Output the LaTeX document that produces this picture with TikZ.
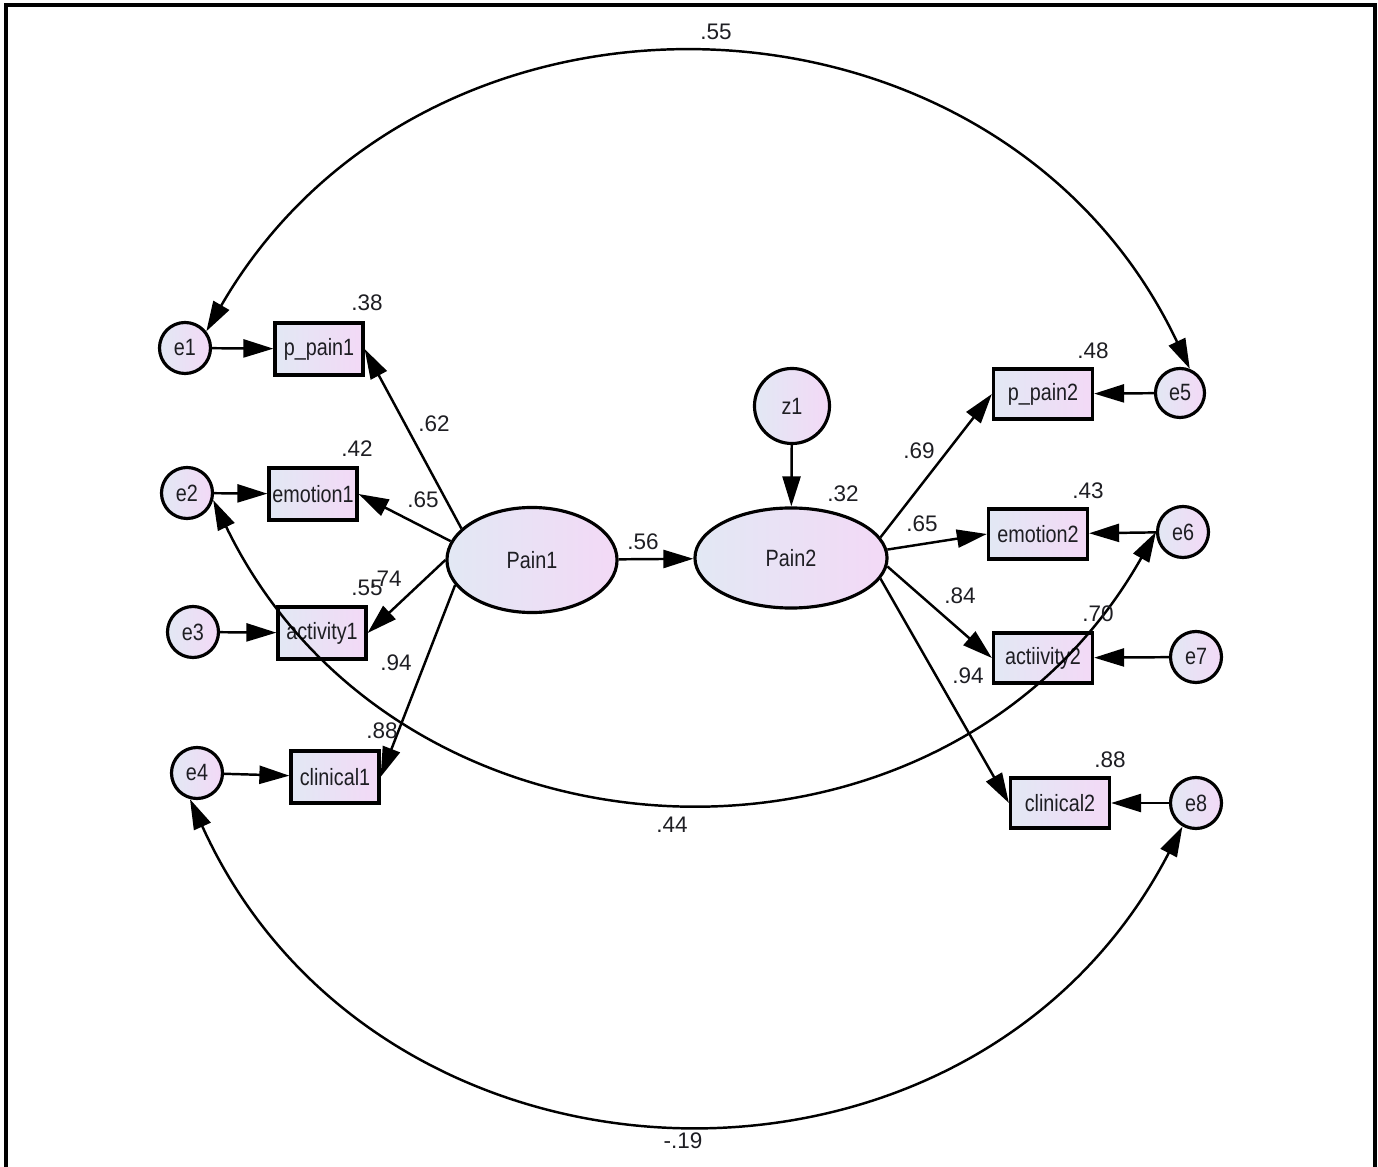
\documentclass[tikz,border=0pt]{standalone}
\usepackage{fontspec}
\setmainfont{Liberation Sans}
\newfontfamily\nodefont[FakeStretch=0.84]{Liberation Sans}
\usetikzlibrary{arrows.meta,shapes.geometric}
\definecolor{shL}{RGB}{226,232,244}
\definecolor{shR}{RGB}{243,217,246}
\definecolor{txt}{RGB}{30,30,35}
\begin{document}
\begin{tikzpicture}[x=0.01cm,y=-0.01cm,
  nfont/.style={font=\nodefont\fontsize{6.7pt}{7.5pt}\selectfont, text=txt},
  obs/.style={draw, line width=0.9pt, rectangle, shade, left color=shL, right color=shR,
    minimum width=0.88cm, minimum height=0.52cm, inner sep=0pt, nfont},
  obsR/.style={obs, minimum width=0.99cm, minimum height=0.50cm},
  err/.style={draw, line width=0.9pt, circle, shade, left color=shL, right color=shR,
    minimum size=0.51cm, inner sep=0pt, nfont},
  lat/.style={draw, line width=0.9pt, ellipse, shade, left color=shL, right color=shR,
    inner sep=0pt, nfont},
  lab/.style={font=\fontsize{6.4pt}{7.5pt}\selectfont, text=txt, inner sep=0pt},
  conn/.style={line width=0.7pt, -{Triangle[length=0.3cm,width=0.18cm]}},
  cov/.style={line width=0.7pt, {Triangle[length=0.3cm,width=0.18cm]}-{Triangle[length=0.3cm,width=0.18cm]}}
]
\useasboundingbox (0,0) rectangle (1378,1167);
\draw[line width=0.9pt] (6,1167) -- (6,5) -- (1375,5) -- (1375,1167);

% left observed
\node[obs] (p_pain1) at (319,349) {p\_pain1};
\node[obs] (emotion1) at (313,494) {emotion1};
\node[obs] (activity1) at (322,633) {activity1};
\node[obs] (clinical1) at (335,777) {clinical1};
% left errors
\node[err] (e1) at (185,348) {e1};
\node[err] (e2) at (187,493) {e2};
\node[err] (e3) at (193,632) {e3};
\node[err] (e4) at (197,773) {e4};
% latent
\node[lat, minimum width=1.70cm, minimum height=1.05cm] (Pain1) at (532,560) {Pain1};
\node[lat, minimum width=1.92cm, minimum height=1.00cm] (Pain2) at (791,558) {Pain2};
\node[err, minimum size=0.75cm] (z1) at (792,406) {z1};
% right observed
\node[obsR] (p_pain2) at (1043,394) {p\_pain2};
\node[obsR] (emotion2) at (1038,534) {emotion2};
\node[obsR] (actiivity2) at (1043,658) {actiivity2};
\node[obsR] (clinical2) at (1060,803) {clinical2};
% right errors
\node[err, minimum size=0.49cm] (e5) at (1180,393) {e5};
\node[err] (e6) at (1183,532) {e6};
\node[err] (e7) at (1196,657) {e7};
\node[err] (e8) at (1196,803) {e8};

% error arrows
\draw[conn] (e1) -- (p_pain1);
\draw[conn] (e2) -- (emotion1);
\draw[conn] (e3) -- (activity1);
\draw[conn] (e4) -- (clinical1);
\draw[conn] (e5) -- (p_pain2);
\draw[conn] (e6) -- (emotion2);
\draw[conn] (e7) -- (actiivity2);
\draw[conn] (e8) -- (clinical2);
\draw[conn] (z1) -- (Pain2);

% loadings
\draw[conn] (Pain1.156) -- (p_pain1.east);
\draw[conn] (Pain1.167) -- (emotion1.east);
\draw[conn] (Pain1.180) -- (activity1.east);
\draw[conn] (Pain1.198) -- (clinical1.east);
\draw[conn] (Pain1) -- (Pain2);
\draw[conn] (Pain2.13) -- (p_pain2.west);
\draw[conn] (Pain2.5) -- (emotion2.west);
\draw[conn] (Pain2.-5) -- (actiivity2.west);
\draw[conn] (Pain2.-13) -- (clinical2.west);

% covariances
\draw[cov] (e1.38) .. controls (428,-52) and (1000,-32) .. (e5.68);
\draw[cov] (e2.-15) .. controls (400,885) and (946,904) .. (e6.west);
\draw[cov] (e4.255) .. controls (379,1216) and (972,1233) .. (e8.240);

% labels
\node[lab] (lTop) at (716,32) {.55};
\node[lab] (l38) at (367,303) {.38};
\node[lab] (l42) at (357,449) {.42};
\node[lab] (l62) at (434,424) {.62};
\node[lab] (l65a) at (423,500) {.65};
\node[lab] (l55) at (367,588) {.55};
\node[lab] (l74) at (386,579) {.74};
\node[lab] (l94a) at (396,663) {.94};
\node[lab] (l88a) at (382,731) {.88};
\node[lab] (l56) at (643,542) {.56};
\node[lab] (l32) at (843,494) {.32};
\node[lab] (l69) at (919,451) {.69};
\node[lab] (l65b) at (922,524) {.65};
\node[lab] (l48) at (1093,351) {.48};
\node[lab] (l43) at (1088,491) {.43};
\node[lab] (l84) at (960,596) {.84};
\node[lab] (l70) at (1098,614) {.70};
\node[lab] (l94b) at (968,676) {.94};
\node[lab] (l88b) at (1110,760) {.88};
\node[lab] (l44) at (672,825) {.44};
\node[lab] (l19) at (683,1141) {-.19};
\end{tikzpicture}
\end{document}
